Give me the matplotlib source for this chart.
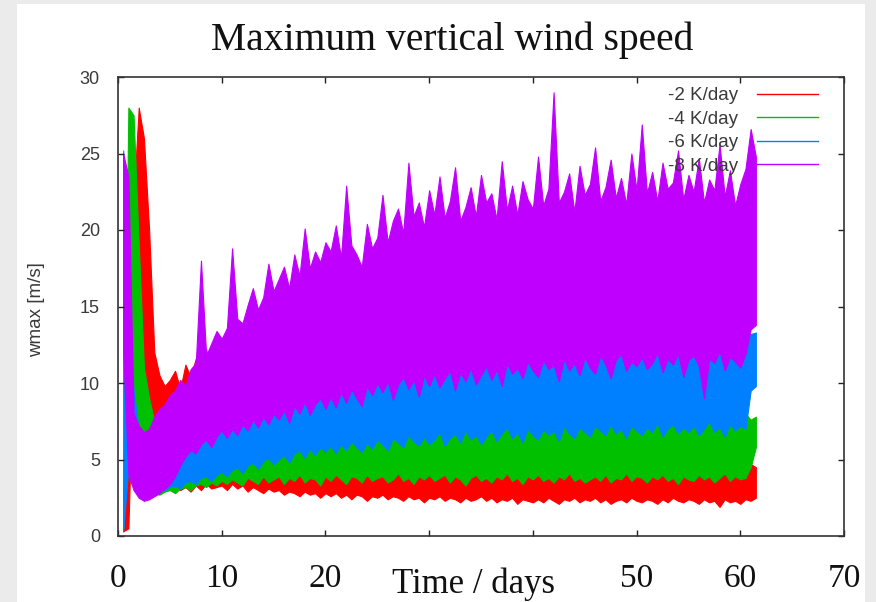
import numpy as np
import matplotlib
matplotlib.use("Agg")
import matplotlib.pyplot as plt
from matplotlib.patches import Rectangle
from matplotlib.lines import Line2D

# ---------------- data ----------------
title = "Maximum vertical wind speed"
xlabel = "Time / days"
ylabel = "wmax [m/s]"
labels = ["-2 K/day", "-4 K/day", "-6 K/day", "-8 K/day"]
colors = ["#ff0000", "#00c000", "#0080ff", "#c000ff"]
xtick_vals = [0, 10, 20, 30, 40, 50, 60, 70]
xtick_text = ["0", "10", "20", "", "", "50", "60", "70"]
ytick_vals = [0, 5, 10, 15, 20, 25, 30]

t_start = 0.5      # first half-day sample (days)
t_step = 0.5       # each sample: highest and lowest value in that half day

# -8 K/day
p8_hi = [25.0, 23.5, 8.0, 7.2, 6.8, 7.0, 7.8, 8.3, 8.6, 9.2,
         9.5, 10.2, 9.8, 10.9, 11.3, 18.0, 11.8, 12.6, 13.4, 12.9,
         13.6, 18.8, 14.2, 13.9, 15.1, 16.2, 14.8, 15.6, 17.8, 16.0,
         16.8, 17.6, 16.2, 18.4, 17.0, 20.1, 17.5, 18.6, 17.9, 19.2,
         18.6, 20.3, 18.2, 22.9, 19.0, 18.4, 17.6, 20.4, 18.8, 19.5,
         22.3, 19.2, 20.6, 21.4, 19.8, 24.4, 20.9, 21.8, 20.2, 22.6,
         21.0, 23.5, 20.8, 21.9, 24.1, 20.6, 21.5, 22.8, 20.9, 23.6,
         21.8, 22.4, 20.7, 24.5, 21.3, 22.9, 21.0, 23.2, 22.0, 21.4,
         24.8, 21.6, 22.7, 29.0, 21.8, 22.5, 23.7, 21.2, 24.2, 22.3,
         23.0, 25.4, 21.9, 22.8, 24.6, 22.1, 23.4, 21.7, 25.0, 22.6,
         26.9, 22.4, 23.8, 21.9, 24.4, 22.7, 23.1, 25.2, 22.0, 23.6,
         22.5, 24.7, 21.8, 23.3, 22.6, 25.6, 22.2, 23.9, 21.6, 23.0,
         24.0, 26.6, 24.8]
p8_lo = [12.0, 4.0, 3.0, 2.5, 2.3, 2.4, 2.6, 2.8, 3.1, 3.4,
         3.9, 4.6, 5.2, 5.6, 5.4, 6.0, 6.3, 5.8, 6.5, 6.9,
         6.4, 7.0, 6.6, 7.3, 6.9, 7.6, 7.1, 7.8, 7.3, 8.0,
         7.6, 8.2, 7.4, 8.5, 8.0, 8.8, 7.9, 8.6, 9.0, 8.3,
         9.1, 8.4, 9.4, 8.7, 9.6, 9.0, 8.5, 9.8, 9.2, 10.0,
         9.4, 10.1, 8.9, 9.9, 10.4, 9.6, 10.2, 9.1, 10.5, 9.8,
         10.6, 9.7, 10.3, 10.8, 9.5, 10.7, 10.1, 11.0, 9.9, 10.5,
         11.1, 10.2, 10.9, 9.8, 11.3, 10.6, 11.0, 10.3, 11.4, 10.8,
         10.4, 11.5, 10.9, 11.2, 10.1, 11.6, 10.8, 11.3, 10.5, 11.7,
         11.0, 10.6, 11.8, 11.2, 10.3, 11.5, 11.9, 10.8, 11.4, 11.1,
         11.7, 10.9, 11.3, 12.0, 10.7, 11.6, 11.2, 11.9, 10.4, 11.5,
         11.8, 11.1, 9.0, 11.6, 11.3, 12.1, 10.8, 11.7, 11.4, 11.0,
         11.9, 13.5, 13.8]

# -6 K/day
p6_hi = [25.2, 16.0, 9.5, 7.0, 6.2, 5.8, 5.6, 5.7, 6.0, 6.4,
         6.8, 7.1, 7.6, 7.3, 8.0, 8.4, 7.9, 8.7, 8.3, 9.0,
         8.6, 9.3, 8.9, 9.6, 9.2, 9.9, 9.4, 10.1, 9.7, 10.4,
         9.8, 10.6, 10.0, 10.9, 10.3, 11.1, 10.5, 10.8, 11.3, 10.6,
         11.4, 10.9, 11.7, 11.0, 11.5, 12.2, 10.8, 11.6, 11.2, 11.9,
         11.3, 12.0, 11.5, 12.4, 11.1, 11.8, 12.3, 11.6, 12.1, 11.4,
         12.5, 11.7, 12.0, 11.3, 12.6, 11.9, 12.2, 11.5, 12.8, 12.0,
         11.8, 12.4, 13.0, 11.9, 12.3, 11.6, 12.7, 12.1, 11.8, 12.5,
         12.2, 12.9, 11.7, 12.4, 13.2, 12.0, 12.6, 11.9, 12.8, 12.3,
         12.7, 12.1, 13.3, 12.4, 11.9, 12.8, 12.2, 13.0, 12.5, 12.0,
         12.9, 12.3, 12.6, 13.1, 12.0, 12.7, 12.4, 13.4, 12.2, 12.8,
         12.5, 13.0, 12.3, 12.9, 12.6, 13.2, 12.1, 12.7, 12.4, 13.3,
         12.8, 13.2, 13.3]
p6_lo = [0.3, 4.5, 3.5, 3.0, 2.8, 2.7, 2.8, 2.9, 3.0, 3.2,
         3.3, 3.1, 3.5, 3.6, 3.4, 3.8, 3.9, 3.6, 4.0, 4.2,
         3.9, 4.3, 4.5, 4.1, 4.6, 4.8, 4.4, 4.9, 5.1, 4.7,
         5.0, 5.3, 4.8, 5.4, 5.6, 5.1, 5.7, 5.3, 5.8, 5.5,
         5.9, 5.4, 6.0, 5.6, 6.2, 5.8, 5.5, 6.1, 5.7, 6.3,
         6.0, 5.6, 6.4, 6.1, 5.8, 6.6, 6.2, 5.9, 6.5, 6.0,
         6.3, 6.8, 5.9, 6.4, 6.7, 6.1, 6.9, 6.3, 6.6, 6.0,
         6.5, 6.9, 6.2, 6.7, 7.1, 6.4, 6.8, 6.1, 7.0, 6.6,
         6.3, 7.0, 6.6, 6.9, 6.2, 7.2, 6.7, 6.4, 7.1, 6.8,
         6.5, 7.2, 6.9, 6.6, 7.3, 6.7, 7.0, 6.4, 7.2, 6.9,
         6.6, 7.1, 6.8, 7.4, 6.5, 7.0, 7.3, 6.7, 7.1, 6.8,
         7.2, 6.6, 7.0, 7.5, 6.8, 7.1, 6.5, 7.3, 6.9, 7.2,
         7.0, 9.5, 9.8]

# -4 K/day
p4_hi = [2.0, 28.0, 27.5, 19.0, 11.0, 9.0, 7.5, 6.5, 6.0, 5.6,
         5.2, 5.5, 5.0, 5.7, 5.3, 6.0, 5.6, 6.2, 5.8, 6.4,
         6.0, 6.6, 6.2, 6.9, 6.4, 6.7, 7.1, 6.5, 6.9, 7.3,
         6.7, 7.0, 7.4, 6.8, 7.2, 7.6, 6.9, 7.3, 7.0, 7.7,
         7.1, 7.5, 6.9, 7.8, 7.2, 7.4, 7.9, 7.0, 7.6, 7.3,
         7.7, 7.2, 8.0, 7.4, 7.8, 7.1, 8.2, 7.5, 7.9, 7.3,
         7.6, 8.1, 7.4, 7.9, 7.2, 8.3, 7.7, 7.5, 8.0, 7.4,
         7.8, 7.3, 8.2, 7.6, 8.0, 7.5, 7.9, 8.4, 7.7, 7.4,
         8.1, 7.6, 7.9, 7.3, 8.3, 7.8, 7.5, 8.0, 7.7, 8.2,
         7.5, 8.0, 7.7, 8.5, 7.6, 7.9, 7.4, 8.2, 7.8, 7.6,
         8.3, 7.7, 8.0, 7.5, 8.1, 7.9, 8.4, 7.6, 8.0, 7.7,
         7.9, 8.2, 7.6, 8.0, 7.8, 8.5, 7.7, 8.1, 7.5, 7.9,
         8.0, 7.6, 7.8]
p4_lo = [0.5, 22.0, 8.0, 5.0, 3.8, 3.0, 2.8, 2.7, 2.9, 3.0,
         2.8, 3.1, 3.2, 3.0, 3.3, 3.4, 3.2, 3.5, 3.3, 3.6,
         3.4, 3.7, 3.5, 3.3, 3.8, 3.6, 3.4, 3.9, 3.5, 3.7,
         3.9, 3.4, 3.8, 3.6, 4.0, 3.5, 3.8, 3.7, 3.3, 3.9,
         3.6, 4.0, 3.7, 3.4, 3.9, 3.8, 3.5, 4.0, 3.6, 3.8,
         3.9, 3.5, 3.7, 4.1, 3.6, 3.8, 3.4, 3.9, 3.7, 4.0,
         3.6, 3.8, 4.0, 3.5, 3.9, 3.7, 3.3, 3.8, 4.0, 3.6,
         3.8, 3.5, 3.9, 3.7, 4.1, 3.6, 3.8, 3.4, 3.9, 3.7,
         4.0, 3.6, 3.8, 3.5, 3.9, 3.7, 4.1, 3.6, 3.8, 3.5,
         3.7, 3.9, 3.6, 4.0, 3.5, 3.8, 3.7, 4.1, 3.6, 3.9,
         3.8, 3.5, 3.9, 3.7, 4.0, 3.6, 3.8, 3.4, 3.9, 3.7,
         3.6, 4.0, 3.7, 3.9, 3.5, 3.8, 4.1, 3.6, 3.9, 3.7,
         3.8, 4.5, 5.8]

# -2 K/day
p2_hi = [1.0, 5.0, 22.0, 28.0, 26.0, 20.0, 12.0, 10.5, 9.8, 10.2,
         10.8, 9.6, 11.2, 10.4, 11.6, 10.0, 12.2, 10.6, 11.8, 9.4,
         8.0, 7.2, 6.5, 6.0, 5.6, 5.9, 5.3, 5.6, 5.1, 5.4,
         5.0, 5.3, 4.9, 5.2, 4.8, 5.1, 4.7, 5.0, 4.8, 5.2,
         4.7, 4.9, 4.6, 5.0, 4.7, 4.5, 4.9, 4.6, 4.8, 4.5,
         4.8, 4.5, 4.7, 4.4, 4.9, 4.6, 4.3, 4.7, 4.5, 4.8,
         4.4, 4.7, 4.5, 4.8, 4.3, 4.6, 4.9, 4.4, 4.6, 4.5,
         4.7, 4.3, 4.6, 4.4, 4.8, 4.5, 4.2, 4.6, 4.4, 4.7,
         4.5, 4.3, 4.7, 4.4, 4.6, 4.2, 4.8, 4.5, 4.3, 4.6,
         4.4, 4.7, 4.3, 4.5, 4.2, 4.6, 4.4, 4.8, 4.3, 4.5,
         4.6, 4.3, 4.5, 4.2, 4.7, 4.4, 4.6, 4.3, 4.5, 4.8,
         4.3, 4.5, 4.2, 4.6, 4.4, 4.7, 4.3, 4.5, 4.2, 4.6,
         4.4, 4.7, 4.5]
p2_lo = [0.3, 0.5, 12.0, 10.0, 8.0, 7.0, 7.5, 3.6, 3.3, 3.1,
         3.4, 3.0, 3.2, 2.9, 3.3, 3.0, 3.4, 3.1, 3.2, 3.3,
         3.0, 3.4, 3.1, 3.3, 2.9, 3.2, 3.0, 2.8, 3.1, 2.9,
         3.0, 2.7, 2.9, 2.8, 2.6, 2.9, 2.7, 2.8, 2.5, 2.8,
         2.6, 2.8, 2.5, 2.7, 2.4, 2.7, 2.6, 2.3, 2.6, 2.5,
         2.7, 2.4, 2.6, 2.5, 2.3, 2.6, 2.4, 2.5, 2.2, 2.5,
         2.4, 2.6, 2.3, 2.5, 2.4, 2.2, 2.5, 2.3, 2.4, 2.6,
         2.3, 2.5, 2.2, 2.4, 2.3, 2.5, 2.1, 2.4, 2.3, 2.2,
         2.4, 2.2, 2.5, 2.3, 2.1, 2.4, 2.3, 2.5, 2.2, 2.4,
         2.3, 2.5, 2.2, 2.4, 2.1, 2.3, 2.4, 2.2, 2.5, 2.3,
         2.2, 2.4, 2.3, 2.1, 2.4, 2.2, 2.5, 2.3, 2.2, 2.4,
         2.3, 2.1, 2.4, 2.2, 2.3, 1.9, 2.4, 2.2, 2.3, 2.1,
         2.4, 2.3, 2.5]

series = [(p2_lo, p2_hi), (p4_lo, p4_hi), (p6_lo, p6_hi), (p8_lo, p8_hi)]

# ---------------- figure ----------------
W, H = 876, 602
fig = plt.figure(figsize=(W / 100, H / 100), dpi=100)
fig.patch.set_facecolor("#ebebeb")
fig.patches.append(Rectangle((17 / W, 0), (865 - 17) / W, (H - 4) / H,
                             transform=fig.transFigure, facecolor="white",
                             edgecolor="none", zorder=-10))

ax = fig.add_axes([118 / W, (H - 536) / H, (844 - 118) / W, (536 - 77) / H])
ax.set_facecolor("white")
ax.set_zorder(1)

handles = []
for (lo, hi), lab, col in zip(series, labels, colors):
    n = min(len(lo), len(hi))
    t = t_start + t_step * np.arange(n)
    ax.fill_between(t, lo[:n], hi[:n], facecolor=col, edgecolor=col, lw=0.8)
    handles.append(Line2D([], [], color=col, lw=1.0, label=lab))

ax.set_xlim(0, 70)
ax.set_ylim(0, 30)

sans = ["Liberation Sans", "DejaVu Sans"]
serif = ["Liberation Serif", "DejaVu Serif"]
grey = "#3a3a3a"

ax.set_yticks(ytick_vals)
ax.set_yticklabels([str(v) for v in ytick_vals], family=sans, fontsize=13,
                   color=grey)
ax.set_xticks(xtick_vals)
ax.set_xticklabels(xtick_text, family=serif, fontsize=24, color="#111111")
ax.tick_params(axis="both", direction="in", length=4, width=1, color="#222222",
               top=True, right=True)
ax.tick_params(axis="y", pad=13)
ax.tick_params(axis="x", pad=20)
for s in ax.spines.values():
    s.set_color("#333333")
    s.set_linewidth(1.2)

leg = ax.legend(handles=handles, loc="upper right",
                bbox_to_anchor=(818 / W, (H - 87) / H),
                bbox_transform=fig.transFigure, frameon=False, markerfirst=False,
                handlelength=3.25, handletextpad=1.0, labelspacing=0.34,
                borderpad=0, borderaxespad=0,
                prop={"family": sans, "size": 13.5})
for txt in leg.get_texts():
    txt.set_color(grey)
leg.set_zorder(10)

fig.text(452 / W, 1 - 40 / H, title, ha="center", va="center",
         family=serif, fontsize=28.5, color="#111111")
fig.text(473 / W, 1 - 584 / H, xlabel, ha="center", va="center",
         family=serif, fontsize=25, color="#111111")
fig.text(37 / W, 1 - 310 / H, ylabel, ha="center", va="center", rotation=90,
         family=sans, fontsize=13.5, color=grey)

fig.savefig("out.png", dpi=100, facecolor=fig.get_facecolor())
